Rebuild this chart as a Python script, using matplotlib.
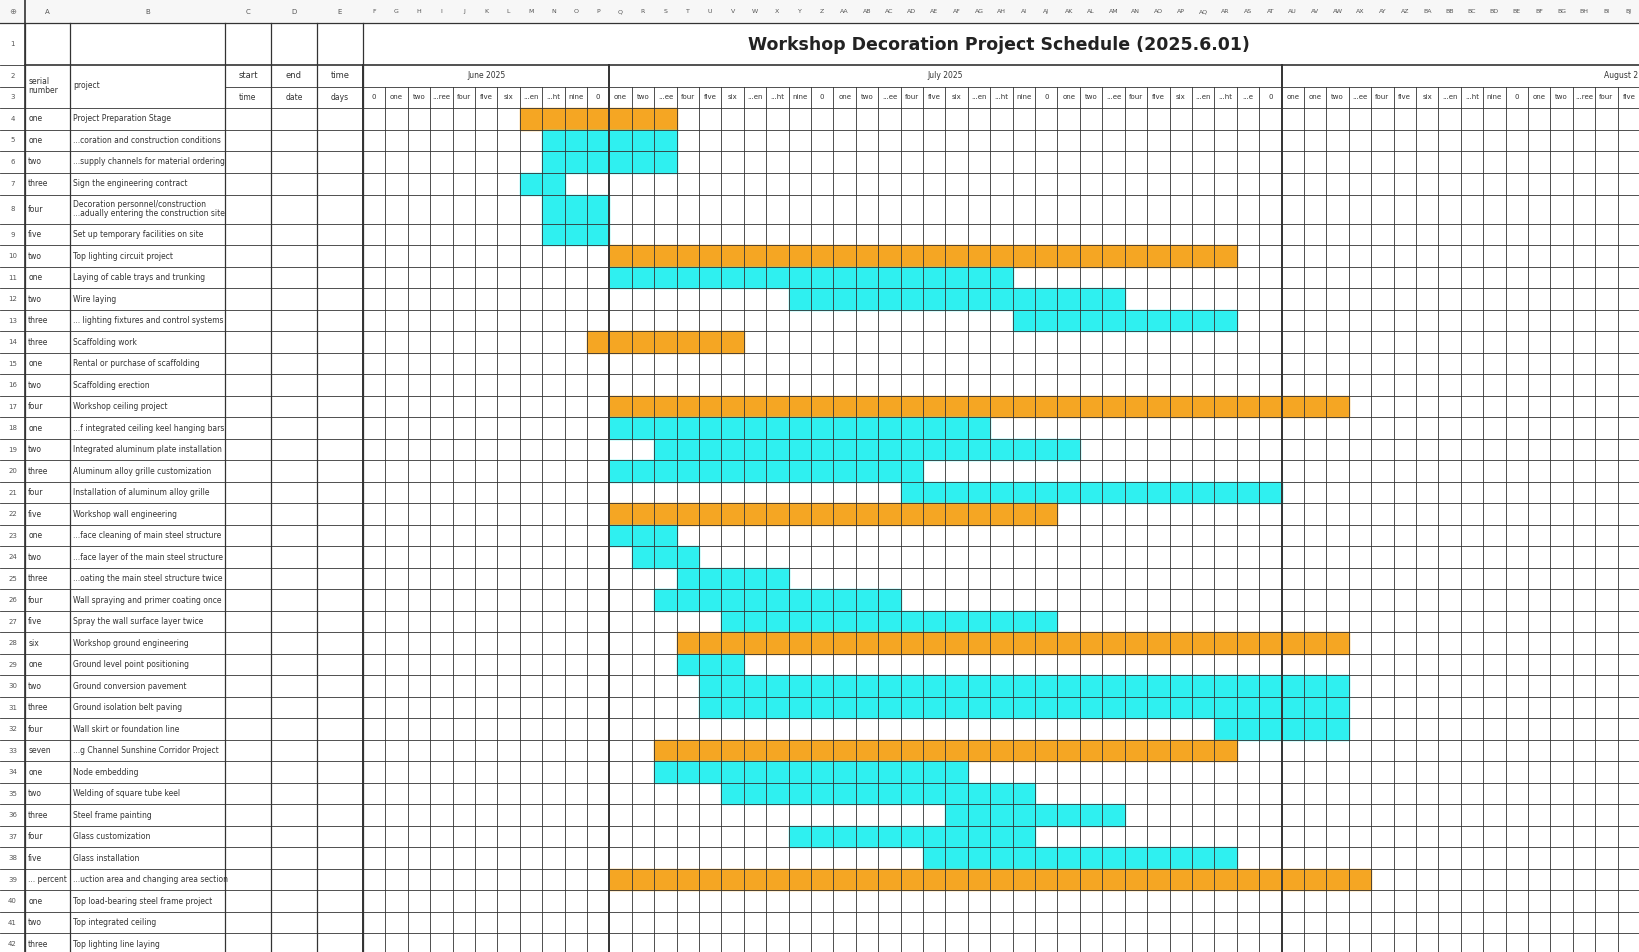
import matplotlib.pyplot as plt
from matplotlib.patches import Rectangle

title = "Workshop Decoration Project Schedule (2025.6.01)"
col_letters = ("F G H I J K L M N O P Q R S T U V W X Y Z AA AB AC AD AE AF AG AH AI AJ AK AL AM AN AO AP AQ AR AS AT "
               "AU AV AW AX AY AZ BA BB BC BD BE BF BG BH BI BJ").split()
months = [("June 2025", 11), ("July 2025", 30), ("August 2", 16)]
day_labels = (["0", "one", "two", "...ree", "four", "five", "six", "...en", "...ht", "nine", "0"]
              + ["one", "two", "...ee", "four", "five", "six", "...en", "...ht", "nine", "0"]
              + ["one", "two", "...ee", "four", "five", "six", "...en", "...ht", "nine", "0"]
              + ["one", "two", "...ee", "four", "five", "six", "...en", "...ht", "...e", "0"]
              + ["one", "one", "two", "...ee", "four", "five", "six", "...en", "...ht", "nine", "0",
                 "one", "two", "...ree", "four", "five"])

serials = ["one", "one", "two", "three", "four", "five", "two", "one", "two", "three", "three", "one", "two",
           "four", "one", "two", "three", "four", "five", "one", "two", "three", "four", "five", "six", "one",
           "two", "three", "four", "seven", "one", "two", "three", "four", "five", "... percent", "one", "two",
           "three"]
projects = ["Project Preparation Stage", "...coration and construction conditions",
            "...supply channels for material ordering", "Sign the engineering contract",
            "Decoration personnel/construction\n...adually entering the construction site",
            "Set up temporary facilities on site", "Top lighting circuit project",
            "Laying of cable trays and trunking", "Wire laying", "... lighting fixtures and control systems",
            "Scaffolding work", "Rental or purchase of scaffolding", "Scaffolding erection",
            "Workshop ceiling project", "...f integrated ceiling keel hanging bars",
            "Integrated aluminum plate installation", "Aluminum alloy grille customization",
            "Installation of aluminum alloy grille", "Workshop wall engineering",
            "...face cleaning of main steel structure", "...face layer of the main steel structure",
            "...oating the main steel structure twice", "Wall spraying and primer coating once",
            "Spray the wall surface layer twice", "Workshop ground engineering", "Ground level point positioning",
            "Ground conversion pavement", "Ground isolation belt paving", "Wall skirt or foundation line",
            "...g Channel Sunshine Corridor Project", "Node embedding", "Welding of square tube keel",
            "Steel frame painting", "Glass customization", "Glass installation",
            "...uction area and changing area section", "Top load-bearing steel frame project",
            "Top integrated ceiling", "Top lighting line laying"]
# (first day column, last day column, is_stage) ; None = no bar
bars = [(7, 13, 1), (8, 13, 0), (8, 13, 0), (7, 8, 0), (8, 10, 0), (8, 10, 0),
        (11, 38, 1), (11, 28, 0), (19, 33, 0), (29, 38, 0),
        (10, 16, 1), None, None,
        (11, 43, 1), (11, 27, 0), (13, 31, 0), (11, 24, 0), (24, 40, 0),
        (11, 30, 1), (11, 13, 0), (12, 14, 0), (14, 18, 0), (13, 23, 0), (16, 30, 0),
        (14, 43, 1), (14, 16, 0), (15, 43, 0), (15, 43, 0), (38, 43, 0),
        (13, 38, 1), (13, 26, 0), (16, 29, 0), (26, 33, 0), (19, 29, 0), (25, 38, 0),
        (11, 44, 1), None, None, None]

ORANGE, CYAN = "#f5a623", "#2ff0f0"
W, H = 1568, 910
fig = plt.figure(figsize=(16.4, 9.52), dpi=100)
ax = fig.add_axes([0, 0, 1, 1])
ax.set_xlim(0, W)
ax.set_ylim(H, 0)
ax.axis("off")

fixed_x = [0, 24, 67, 215, 259, 303, 347]
g0, cw = 347, (W - 347) / 57


def cx(i):
    return g0 + i * cw


# row geometry
row_tops = {0: 0, 1: 22, 2: 62, 3: 83, 4: 103, 5: 124, 6: 144, 7: 165, 8: 186}
for n in range(9, 44):
    row_tops[n] = 214 + (n - 9) * 20.55


def rt(n):
    return row_tops[n]


lc = "#333333"
# column letter header
ax.add_patch(Rectangle((0, 0), W, 22, color="#f7f7f7", zorder=0))
for x, lab in zip([45, 141, 237, 281, 325], ["A", "B", "C", "D", "E"]):
    ax.text(x, 11, lab, ha="center", va="center", fontsize=5, color="#555")
for i, lab in enumerate(col_letters):
    ax.text(cx(i + 0.5), 11, lab, ha="center", va="center", fontsize=4.5, color="#555")
ax.text(12, 11, "⊕", ha="center", va="center", fontsize=6, color="#777")

# bars
for k, b in enumerate(bars):
    if b is None:
        continue
    s, e, stage = b
    y0 = rt(k + 4)
    ax.add_patch(Rectangle((cx(s), y0), cx(e + 1) - cx(s), rt(k + 5) - y0,
                           color=ORANGE if stage else CYAN, zorder=1))

# grid lines
bottom = H
for x in fixed_x[1:]:
    ax.plot([x, x], [22, bottom], color=lc, lw=0.9, zorder=2)
for i in range(58):
    x = cx(i)
    ax.plot([x, x], [83 if i not in (0, 11, 41) else 62, bottom], color=lc,
            lw=1.4 if i in (0, 11, 41) else 0.6, zorder=2)
ax.plot([0, W], [22, 22], color=lc, lw=0.9)
ax.plot([24, W], [62, 62], color=lc, lw=1.2)
ax.plot([215, W], [83, 83], color=lc, lw=0.6)
for n in range(4, 44):
    ax.plot([0 if n > 3 else 24, W], [rt(n), rt(n)], color=lc, lw=0.6, zorder=2)
ax.plot([0, 24], [62, 62], color=lc, lw=0.6)
ax.plot([0, 24], [83, 83], color=lc, lw=0.6)
ax.plot([24, 24], [0, bottom], color=lc, lw=1.2)

# title and headers
ax.text(955, 43, title, ha="center", va="center", fontsize=12.5, fontweight="bold", color="#222")
for n in range(1, 43):
    yc = (rt(n) + rt(n + 1)) / 2
    ax.text(12, yc, str(n), ha="center", va="center", fontsize=5, color="#555")
ax.text(27, 82, "serial\nnumber", ha="left", va="center", fontsize=5.5, color="#333", linespacing=1.0)
ax.text(70, 82, "project", ha="left", va="center", fontsize=5.5, color="#333")
for xc, a, b in [(237, "start", "time"), (281, "end", "date"), (325, "time", "days")]:
    ax.text(xc, 72, a, ha="center", va="center", fontsize=6, color="#333")
    ax.text(xc, 93, b, ha="center", va="center", fontsize=5.5, color="#333")
start = 0
for name, n in months:
    xc = (cx(start) + min(cx(start + n), W)) / 2 if name != "August 2" else W - 18
    ax.text(xc, 72, name, ha="center", va="center", fontsize=5.5, color="#333")
    start += n
for i, lab in enumerate(day_labels):
    ax.text(cx(i + 0.5), 93, lab, ha="center", va="center", fontsize=5, color="#333")

for k, (s, p) in enumerate(zip(serials, projects)):
    yc = (rt(k + 4) + rt(k + 5)) / 2
    ax.text(27, yc, s, ha="left", va="center", fontsize=5.5, color="#333")
    ax.text(70, yc, p, ha="left", va="center", fontsize=5.5, color="#333", linespacing=1.0)

fig.savefig("out.png", dpi=100)
